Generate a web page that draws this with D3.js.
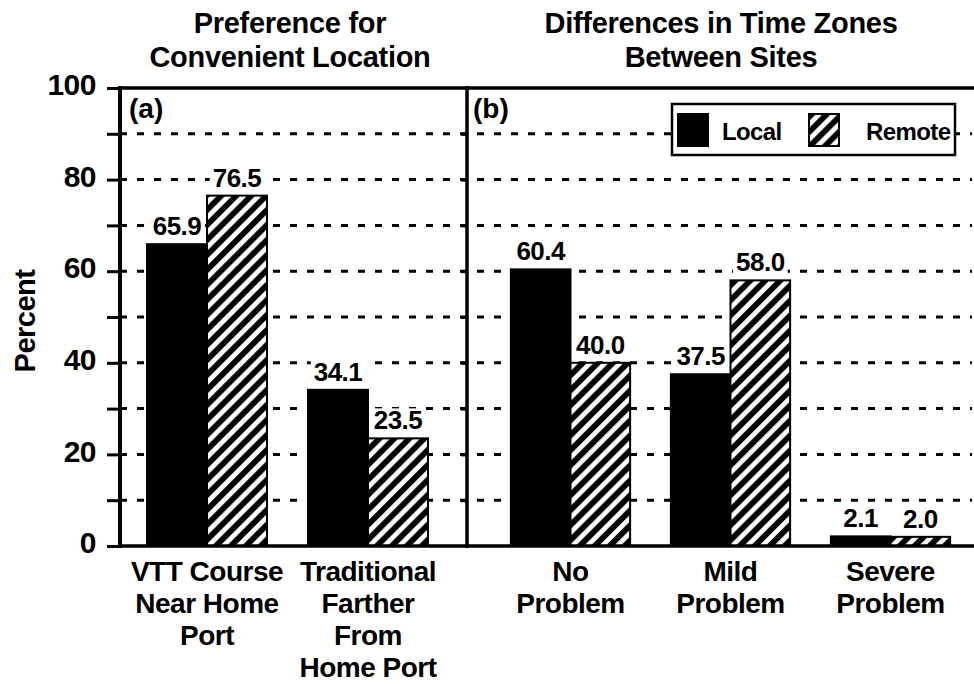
<!DOCTYPE html>
<html lang="en">
<head>
    <script src="https://d3js.org/d3.v7.min.js"></script>
    <style>
        body { margin: 0; background: #fff; }
        text { font-family: "Liberation Sans", Arial, Helvetica, sans-serif; font-weight: bold; fill: #000; }
    </style>
</head>
<body>
<script>
    // panel (a)
    var catsA = ["VTT Course Near Home Port", "Traditional Farther From Home Port"];
    var linesA = [["VTT Course", "Near Home", "Port"], ["Traditional", "Farther", "From", "Home Port"]];
    var localA = [65.9, 34.1];
    var remoteA = [76.5, 23.5];

    // panel (b)
    var catsB = ["No Problem", "Mild Problem", "Severe Problem"];
    var linesB = [["No", "Problem"], ["Mild", "Problem"], ["Severe", "Problem"]];
    var localB = [60.4, 37.5, 2.1];
    var remoteB = [40.0, 58.0, 2.0];

    var series = ["Local", "Remote"];
    var yTicks = [0, 20, 40, 60, 80, 100];
    var titleA = ["Preference for", "Convenient Location"];
    var titleB = ["Differences in Time Zones", "Between Sites"];

    var width = 974, height = 684;
    var plotLeft = 120, divider = 467, plotRight = 972, plotTop = 88, plotBottom = 546;

    var svg = d3.select("body").append("svg")
        .attr("width", width)
        .attr("height", height);

    var defs = svg.append("defs");
    var pat = defs.append("pattern")
        .attr("id", "hatch")
        .attr("patternUnits", "userSpaceOnUse")
        .attr("width", 10.6)
        .attr("height", 10.6)
        .attr("patternTransform", "rotate(45)");
    pat.append("rect").attr("width", 10.6).attr("height", 10.6).attr("fill", "#000");
    pat.append("rect").attr("x", 3).attr("width", 4.8).attr("height", 10.6).attr("fill", "#fff");

    var y = d3.scaleLinear().domain([0, 100]).range([plotBottom, plotTop]);

    // dashed grid
    svg.append("g").selectAll("line")
        .data(d3.range(10, 100, 10))
        .enter().append("line")
        .attr("x1", plotLeft).attr("x2", plotRight)
        .attr("y1", d => y(d)).attr("y2", d => y(d))
        .attr("stroke", "#000")
        .attr("stroke-width", 3)
        .attr("stroke-dasharray", "7,10");

    var fmt = d3.format(".1f");

    function drawPanel(cats, lines, local, remote, r0, r1) {
        var x0 = d3.scaleBand().domain(cats).range([r0, r1])
            .paddingInner(0.2547).paddingOuter(0.2547 / 2);
        var x1 = d3.scaleBand().domain(series).range([0, x0.bandwidth()]);

        var rows = cats.map(function (c, i) {
            return { cat: c, lines: lines[i], vals: [local[i], remote[i]] };
        });

        var g = svg.append("g");
        var grp = g.selectAll("g.grp").data(rows).enter().append("g")
            .attr("transform", d => "translate(" + x0(d.cat) + ",0)");

        grp.selectAll("rect.bar")
            .data(d => d.vals.map((v, j) => ({ s: series[j], v: v })))
            .enter().append("rect")
            .attr("class", "bar")
            .attr("x", d => x1(d.s))
            .attr("width", x1.bandwidth())
            .attr("y", d => y(d.v))
            .attr("height", d => y(0) - y(d.v))
            .attr("fill", d => d.s === "Local" ? "#000" : "url(#hatch)")
            .attr("stroke", "#000")
            .attr("stroke-width", 2);

        // value labels with white backing
        var lab = grp.selectAll("g.lab")
            .data(d => d.vals.map((v, j) => ({ s: series[j], v: v })))
            .enter().append("g").attr("class", "lab");
        lab.append("text")
            .attr("x", d => x1(d.s) + x1.bandwidth() / 2)
            .attr("y", d => y(d.v) - 9)
            .attr("text-anchor", "middle")
            .attr("font-size", 26)
            .attr("letter-spacing", -0.5)
            .text(d => fmt(d.v));
        lab.each(function () {
            var t = d3.select(this).select("text").node().getBBox();
            d3.select(this).insert("rect", "text")
                .attr("x", t.x - 3).attr("y", t.y + 3)
                .attr("width", t.width + 6).attr("height", t.height - 4)
                .attr("fill", "#fff");
        });

        // category labels
        grp.append("text")
            .attr("text-anchor", "middle")
            .attr("font-size", 28)
            .attr("letter-spacing", -0.5)
            .selectAll("tspan")
            .data(d => d.lines)
            .enter().append("tspan")
            .attr("x", x0.bandwidth() / 2)
            .attr("y", (d, i) => 581 + i * 32)
            .text(d => d);
    }

    drawPanel(catsA, linesA, localA, remoteA, 126.5, 448.5);
    drawPanel(catsB, linesB, localB, remoteB, 490.5, 970.5);

    // y axis
    var yAxis = d3.axisLeft(y)
        .tickValues(d3.range(0, 101, 10))
        .tickSize(13)
        .tickPadding(11)
        .tickFormat(d => yTicks.indexOf(d) >= 0 ? d : "");
    var ya = svg.append("g")
        .attr("transform", "translate(" + plotLeft + ",0)")
        .call(yAxis);
    ya.select(".domain").remove();
    ya.selectAll(".tick line").attr("stroke-width", 3);
    ya.selectAll(".tick text")
        .attr("font-size", 30)
        .attr("font-family", "Liberation Sans, Arial, sans-serif")
        .attr("font-weight", "bold")
        .attr("letter-spacing", -0.5)
        .attr("dy", "0.22em");

    // divider ticks
    var dAxis = d3.axisLeft(y).tickValues(d3.range(10, 100, 10)).tickSize(6).tickFormat("");
    var da = svg.append("g").attr("transform", "translate(" + divider + ",0)").call(dAxis);
    da.select(".domain").remove();
    da.selectAll(".tick line").attr("stroke-width", 3);

    // frame
    svg.append("line").attr("x1", plotLeft).attr("x2", plotLeft).attr("y1", plotTop - 2).attr("y2", plotBottom + 2)
        .attr("stroke", "#000").attr("stroke-width", 4);
    svg.append("line").attr("x1", divider).attr("x2", divider).attr("y1", plotTop - 2).attr("y2", plotBottom + 2)
        .attr("stroke", "#000").attr("stroke-width", 3.5);
    svg.append("line").attr("x1", plotLeft - 2).attr("x2", width).attr("y1", plotTop).attr("y2", plotTop)
        .attr("stroke", "#000").attr("stroke-width", 3.5);
    svg.append("line").attr("x1", plotLeft - 2).attr("x2", width).attr("y1", plotBottom).attr("y2", plotBottom)
        .attr("stroke", "#000").attr("stroke-width", 3.5);

    // panel letters
    svg.append("text").attr("x", 129).attr("y", 118).attr("font-size", 28).text("(a)");
    svg.append("text").attr("x", 473).attr("y", 118).attr("font-size", 28).text("(b)");

    // y label
    svg.append("text")
        .attr("transform", "translate(35,321) rotate(-90)")
        .attr("text-anchor", "middle")
        .attr("font-size", 29)
        .attr("letter-spacing", -0.5)
        .text("Percent");

    // titles
    function title(lines, cx) {
        svg.append("text")
            .attr("text-anchor", "middle")
            .attr("font-size", 29)
            .attr("letter-spacing", -0.3)
            .selectAll("tspan").data(lines).enter().append("tspan")
            .attr("x", cx)
            .attr("y", (d, i) => 33 + i * 34)
            .text(d => d);
    }
    title(titleA, 290);
    title(titleB, 721);

    // legend
    var lg = svg.append("g").attr("transform", "translate(672,104)");
    lg.append("rect").attr("width", 283).attr("height", 51)
        .attr("fill", "#fff").attr("stroke", "#000").attr("stroke-width", 2.5);
    var lx = [6, 137];
    var lt = [50, 194];
    series.forEach(function (s, i) {
        lg.append("rect")
            .attr("x", lx[i]).attr("y", 10)
            .attr("width", 30).attr("height", 32)
            .attr("fill", s === "Local" ? "#000" : "url(#hatch)")
            .attr("stroke", "#000").attr("stroke-width", 2);
        lg.append("text")
            .attr("x", lt[i]).attr("y", 36)
            .attr("font-size", 24)
            .attr("letter-spacing", -0.6)
            .text(s);
    });
</script>
</body>
</html>
